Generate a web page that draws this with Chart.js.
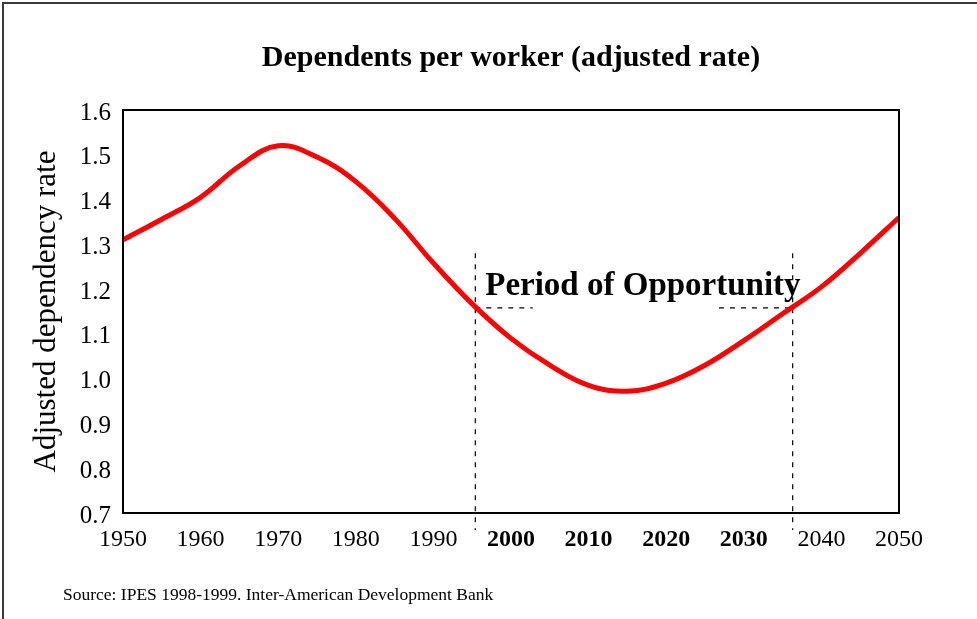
<!DOCTYPE html>
<html><head><meta charset="utf-8">
<script src="https://cdn.jsdelivr.net/npm/chart.js@4.4.1/dist/chart.umd.min.js"></script>
<style>html,body{margin:0;padding:0;background:#fff;overflow:hidden}canvas{display:block}</style>
</head><body>
<canvas id="c" width="977" height="619"></canvas>
<script>
const titleText = 'Dependents per worker (adjusted rate)';
const yAxisTitle = 'Adjusted dependency rate';
const sourceText = 'Source: IPES 1998-1999. Inter-American Development Bank';
const periodLabel = 'Period of Opportunity';

const years = [1950, 1955, 1960, 1965, 1970, 1975, 1980, 1985, 1990, 1995, 2000, 2005, 2010, 2015, 2020, 2025, 2030, 2035, 2040, 2045, 2050];
const rates = [1.31, 1.356, 1.405, 1.475, 1.52, 1.495, 1.44, 1.358, 1.258, 1.167, 1.09, 1.03, 0.985, 0.972, 0.99, 1.03, 1.085, 1.145, 1.205, 1.28, 1.36];

const xTicks = [1950, 1960, 1970, 1980, 1990, 2000, 2010, 2020, 2030, 2040, 2050];
const boldTicks = [2000, 2010, 2020, 2030];
const yTicks = [0.7, 0.8, 0.9, 1.0, 1.1, 1.2, 1.3, 1.4, 1.5, 1.6];

const periodStart = 1995.4, periodEnd = 2036.3;
const periodRate = 1.158;
const periodTop = 1.28, periodBottom = 0.662;
const leftDashEnd = 2002.8, rightDashStart = 2026.8;
const periodLabelX = 2017.0, periodLabelY = 1.187;

const FONT = "'Liberation Serif', 'Times New Roman', serif";

const dashStyle = {borderColor: '#000', borderWidth: 1.2, borderDash: [5, 6], pointRadius: 0, fill: false, clip: false, tension: 0};

const decor = {
  id: 'decor',
  beforeDraw(chart) {
    const ctx = chart.ctx;
    ctx.save();
    ctx.fillStyle = '#fff';
    ctx.fillRect(0, 0, chart.width, chart.height);
    ctx.strokeStyle = '#3a3a3a';
    ctx.lineWidth = 2;
    ctx.beginPath();
    ctx.moveTo(3, chart.height + 5);
    ctx.lineTo(3, 3);
    ctx.lineTo(chart.width + 5, 3);
    ctx.stroke();
    ctx.restore();
  },
  afterDraw(chart) {
    const {ctx, chartArea: a} = chart;
    const xs = chart.scales.x, ys = chart.scales.y;
    ctx.save();
    ctx.strokeStyle = '#000';
    ctx.lineWidth = 2;
    ctx.strokeRect(a.left, a.top, a.right - a.left, a.bottom - a.top);
    ctx.fillStyle = '#000';
    ctx.textAlign = 'center';
    ctx.textBaseline = 'alphabetic';
    ctx.font = "bold 30px " + FONT;
    ctx.fillText(titleText, (a.left + a.right) / 2, 66);
    ctx.font = "bold 33px " + FONT;
    ctx.fillText(periodLabel, xs.getPixelForValue(periodLabelX), ys.getPixelForValue(periodLabelY));
    ctx.textAlign = 'left';
    ctx.font = "17.5px " + FONT;
    ctx.fillText(sourceText, 63, 600);
    ctx.restore();
  }
};

new Chart(document.getElementById('c'), {
  type: 'line',
  data: {
    datasets: [
      {data: years.map((y, i) => ({x: y, y: rates[i]})), borderColor: '#ff0000', borderWidth: 5, pointRadius: 0, fill: false, tension: 0.4},
      Object.assign({data: [{x: periodStart, y: periodTop}, {x: periodStart, y: periodBottom}]}, dashStyle),
      Object.assign({data: [{x: periodEnd, y: periodTop}, {x: periodEnd, y: periodBottom}]}, dashStyle),
      Object.assign({data: [{x: periodStart, y: periodRate}, {x: leftDashEnd, y: periodRate}]}, dashStyle),
      Object.assign({data: [{x: rightDashStart, y: periodRate}, {x: periodEnd, y: periodRate}]}, dashStyle)
    ]
  },
  options: {
    responsive: false,
    animation: false,
    devicePixelRatio: 1,
    layout: {padding: {top: 110, left: 0, right: 78, bottom: 66}},
    plugins: {legend: {display: false}, tooltip: {enabled: false}, title: {display: false}},
    scales: {
      x: {
        type: 'linear', min: 1950, max: 2050,
        afterFit(s) { s.height = 40; },
        afterBuildTicks(s) { s.ticks = xTicks.map(v => ({value: v})); },
        grid: {display: false, drawTicks: false},
        border: {display: false},
        ticks: {
          padding: 12, color: '#000', maxRotation: 0, autoSkip: false,
          callback: v => String(v),
          font: ctx => ({family: FONT, size: 24, weight: (ctx.tick && boldTicks.includes(ctx.tick.value)) ? 'bold' : 'normal'})
        }
      },
      y: {
        min: 0.7, max: 1.6,
        afterFit(s) { s.width = 123; },
        afterBuildTicks(s) { s.ticks = yTicks.map(v => ({value: v})); },
        grid: {display: false, drawTicks: false},
        border: {display: false},
        ticks: {padding: 12, labelOffset: 3, color: '#000', autoSkip: false, callback: v => Number(v).toFixed(1), font: {family: FONT, size: 25}},
        title: {display: true, text: yAxisTitle, color: '#000', font: {family: FONT, size: 31, lineHeight: 1.2}, padding: {top: 28, bottom: 0}}
      }
    }
  },
  plugins: [decor]
});
</script>
</body></html>
